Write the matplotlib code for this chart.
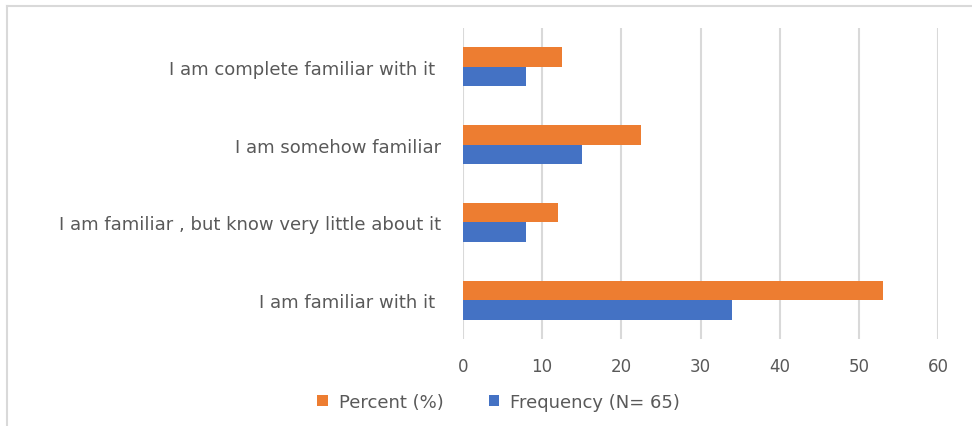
import matplotlib
matplotlib.use("Agg")
import matplotlib.pyplot as plt
from matplotlib.patches import Patch
from matplotlib.lines import Line2D

# Survey responses, listed top to bottom
categories = [
    "I am complete familiar with it ",
    "I am somehow familiar",
    "I am familiar , but know very little about it",
    "I am familiar with it ",
]
percent = [12.5, 22.5, 12.0, 53.0]
frequency = [8, 15, 8, 34]
x_ticks = [0, 10, 20, 30, 40, 50, 60]

ORANGE = "#ED7D31"
BLUE = "#4472C4"
GRID = "#D9D9D9"
TEXT = "#595959"
FS_TICK = 12
FS_LABEL = 13

plt.rcParams["font.family"] = ["DejaVu Sans"]

W, H = 972, 427
fig = plt.figure(figsize=(W / 100, H / 100), dpi=100)
ax = fig.add_axes([463 / W, (H - 340) / H, (938 - 463) / W, (340 - 29) / H])

n = len(categories)
ypos = [n - 1 - i for i in range(n)]
bh = 0.25
ax.barh([y + bh / 2 for y in ypos], percent, height=bh, color=ORANGE, zorder=3)
ax.barh([y - bh / 2 for y in ypos], frequency, height=bh, color=BLUE, zorder=3)

ax.set_xlim(0, 60)
ax.set_ylim(-0.5, n - 0.5)
ax.set_xticks(x_ticks)
ax.set_xticklabels([str(t) for t in x_ticks])
ax.set_yticks(ypos)
ax.set_yticklabels(categories)
ax.xaxis.grid(True, color=GRID, linewidth=1.5, zorder=0)
ax.set_axisbelow(True)
for s in ax.spines.values():
    s.set_visible(False)
ax.tick_params(axis="both", length=0, colors=TEXT)
ax.tick_params(axis="x", labelsize=FS_TICK, pad=13)
ax.tick_params(axis="y", labelsize=FS_LABEL, pad=16)

handles = [Patch(facecolor=ORANGE, label="Percent (%)"),
           Patch(facecolor=BLUE, label="Frequency (N= 65)")]
fig.legend(handles=handles, loc="center", bbox_to_anchor=(498.5 / W, (H - 403) / H),
           ncol=2, frameon=False, fontsize=FS_LABEL, labelcolor=TEXT,
           handlelength=0.6, handleheight=0.5, handletextpad=0.6, columnspacing=2.5,
           borderpad=0.0)

# Light frame along the top and left edges
fig.add_artist(Line2D([7 / W, 1], [(H - 7) / H] * 2, color=GRID, lw=1.5))
fig.add_artist(Line2D([7 / W] * 2, [0, (H - 7) / H], color=GRID, lw=1.5))

fig.savefig("out.png", dpi=100)
